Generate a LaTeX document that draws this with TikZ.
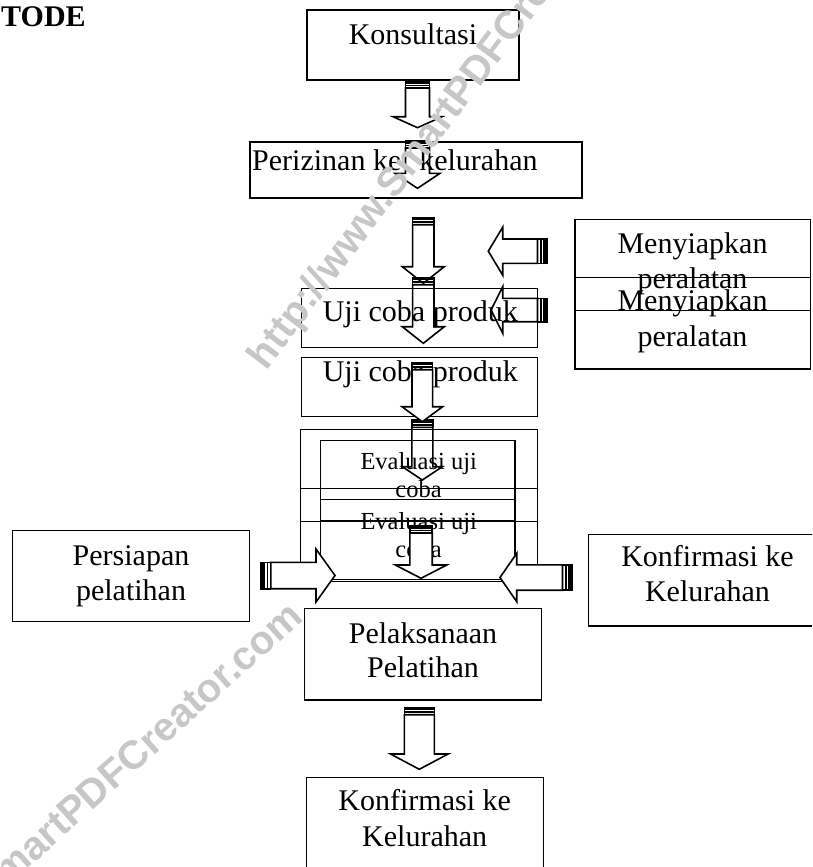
\documentclass[tikz,border=0pt]{standalone}
\usepackage{fontspec}
\setmainfont{Liberation Serif}
\newfontfamily\wmfont{Liberation Sans}
% down arrow: cx, top, shaft bottom, tip y, shaft half width, head half width
\newcommand\ArrDown[6]{%
  \draw[arrline] (#1-#5,#2+8) -- (#1-#5,#3) -- (#1-#6,#3) -- (#1,#4) -- (#1+#6,#3) -- (#1+#5,#3) -- (#1+#5,#2+8) -- cycle;
  \fill (#1-#5-0.8,#2) rectangle (#1+#5+0.8,#2+3.5);
  \fill (#1-#5-0.8,#2+4.7) rectangle (#1+#5+0.8,#2+6.3);
  \draw[line width=1.6pt] (#1-#5,#2) -- (#1-#5,#2+8) (#1+#5,#2) -- (#1+#5,#2+8);
}
% left-pointing arrow: tip x, tip y, head base x, head half height, shaft half height, tail x
\newcommand\ArrLeft[6]{%
  \draw[arrline] (#6-10.8,#2-#5) -- (#3,#2-#5) -- (#3,#2-#4) -- (#1,#2) -- (#3,#2+#4) -- (#3,#2+#5) -- (#6-10.8,#2+#5) -- cycle;
  \fill (#6-5,#2-#5-0.8) rectangle (#6,#2+#5+0.8);
  \fill (#6-8.3,#2-#5-0.8) rectangle (#6-6.7,#2+#5+0.8);
  \draw[line width=1.6pt] (#6-10.8,#2-#5) -- (#6,#2-#5) (#6-10.8,#2+#5) -- (#6,#2+#5);
}
% right-pointing arrow: tip x, tip y, head base x, head half height, shaft half height, tail x
\newcommand\ArrRight[6]{%
  \draw[arrline] (#6+10.8,#2-#5) -- (#3,#2-#5) -- (#3,#2-#4) -- (#1,#2) -- (#3,#2+#4) -- (#3,#2+#5) -- (#6+10.8,#2+#5) -- cycle;
  \fill (#6,#2-#5-0.8) rectangle (#6+5,#2+#5+0.8);
  \fill (#6+6.7,#2-#5-0.8) rectangle (#6+8.3,#2+#5+0.8);
  \draw[line width=1.6pt] (#6+10.8,#2-#5) -- (#6,#2-#5) (#6+10.8,#2+#5) -- (#6,#2+#5);
}
\begin{document}
\begin{tikzpicture}[x=1pt,y=-1pt,
  box/.style={draw, line width=1.1pt, inner sep=0pt, outer sep=0pt},
  arrline/.style={draw, line width=1.6pt, fill=white, line join=miter},
  txt/.style={anchor=base, inner sep=0pt, font=\fontsize{30}{35}\selectfont},
  stxt/.style={anchor=base, inner sep=0pt, font=\fontsize{24.5}{28}\selectfont},
  wm/.style={text=black!22, font=\wmfont\bfseries\fontsize{40}{44}\selectfont, inner sep=0pt}]
\useasboundingbox (0,0) rectangle (812,867);
\clip (0,0) rectangle (812,867);
\fill[white] (0,0) rectangle (812,867);

% title
\node[anchor=base west, inner sep=0pt, font=\bfseries\fontsize{30}{35}\selectfont] (title) at (1,26.7) {TODE};

% arrows lying under the texts
\ArrDown{417.5}{80}{116.7}{127.7}{12}{24.5}
\ArrDown{417.5}{140}{173.3}{188.3}{12}{22.5}
\ArrDown{423.3}{216.7}{266.7}{283.3}{10.7}{21}
\ArrDown{423.3}{276.7}{326.7}{343.3}{10.7}{21}
\ArrDown{422.3}{419.3}{466.7}{480}{10.5}{20}
\ArrLeft{488.3}{251.2}{502.7}{24}{12.2}{548.3}
\ArrLeft{491}{310}{502.7}{23.3}{11.7}{548.3}

% boxes
\node[box, minimum width=212pt, minimum height=70pt] (kons) at (413,45) {};
\node[box, minimum width=332pt, minimum height=56pt] (periz) at (416,170) {};
\node[box, minimum width=236pt, minimum height=59.4pt] (uji1) at (419.7,318) {};
\node[box, minimum width=236pt, minimum height=59.4pt] (uji2) at (419.7,387) {};
\node[box, minimum width=235.7pt, minimum height=91.3pt] (meny1) at (692.85,265.05) {};
\node[box, minimum width=235.7pt, minimum height=91.3pt] (meny2) at (692.85,323.35) {};
\node[box, minimum width=237pt, minimum height=92.4pt] (evo1) at (419.2,475.5) {};
\node[box, minimum width=237pt, minimum height=92.4pt] (evo2) at (419.2,535.1) {};
\node[box, minimum width=194.3pt, minimum height=80pt] (evi1) at (417.85,480.7) {};
\node[box, minimum width=194.3pt, minimum height=80pt] (evi2) at (417.85,539.5) {};
\node[box, minimum width=236.6pt, minimum height=91.3pt] (pers) at (131,576.05) {};
\node[box, minimum width=238.4pt, minimum height=91.3pt] (konf1) at (707.5,580.35) {};
\node[box, minimum width=237.2pt, minimum height=91.7pt] (pelak) at (422.9,654.15) {};
\node[box, minimum width=236.6pt, minimum height=91.3pt] (konf2) at (425,822.95) {};

% texts
\node[txt] (tkons) at (413,45) {Konsultasi};
\node[txt, anchor=base west] (tperiz) at (252,170) {Perizinan ke\hspace{0.6em}kelurahan};
\node[txt] (tuji1) at (420.3,321.7) {Uji coba produk};
\node[txt] (tuji2) at (420.3,381.7) {Uji coba produk};
\node[txt] (tmeny1a) at (692.5,253.3) {Menyiapkan};
\node[txt] (tmeny1b) at (692.5,288.3) {peralatan};
\node[txt] (tmeny2a) at (692.5,310.8) {Menyiapkan};
\node[txt] (tmeny2b) at (692.5,346.5) {peralatan};
\node[stxt] (tev1a) at (418.7,469.3) {Evaluasi uji};
\node[stxt] (tev1b) at (418.5,497.7) {coba};
\node[stxt] (tev2a) at (418.7,529.3) {Evaluasi uji};
\node[stxt] (tev2b) at (418.5,557.2) {coba};
\node[txt] (tpersa) at (131,565) {Persiapan};
\node[txt] (tpersb) at (131,600) {pelatihan};
\node[txt] (tkonf1a) at (707.5,566.7) {Konfirmasi ke};
\node[txt] (tkonf1b) at (707.5,601.7) {Kelurahan};
\node[txt] (tpelaka) at (423,643) {Pelaksanaan};
\node[txt] (tpelakb) at (423,677) {Pelatihan};
\node[txt] (tkonf2a) at (424.7,810.5) {Konfirmasi ke};
\node[txt] (tkonf2b) at (424.7,846.3) {Kelurahan};

% arrows lying over the texts
\ArrDown{422.3}{361.7}{406.7}{421.7}{10.3}{20.3}
\ArrDown{421}{525}{565}{578.3}{11.2}{25.7}
\ArrRight{335}{575.5}{316}{26.5}{13.2}{260}
\ArrLeft{500}{577.5}{516.7}{24.2}{12.7}{573.3}
\ArrDown{419.3}{706.7}{754}{769.3}{15}{28.8}

% watermark
\node[wm, rotate=53] (wm1) at (451,109) {http://www.SmartPDFCreator.com};
\node[wm, rotate=42] (wm2) at (60,826) {http://www.SmartPDFCreator.com};
\end{tikzpicture}
\end{document}
